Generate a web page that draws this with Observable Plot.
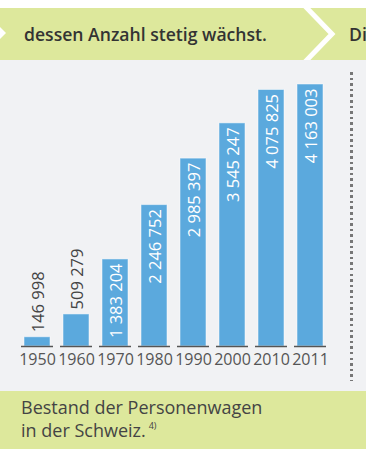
<!DOCTYPE html>
<html>
<head>
<meta charset="utf-8">
<script src="https://cdn.jsdelivr.net/npm/d3@7"></script>
<script src="https://cdn.jsdelivr.net/npm/@observablehq/plot@0.6"></script>
<style>
  html, body { margin: 0; padding: 0; background: #fff; }
  #page { position: relative; width: 366px; height: 449px; overflow: hidden; background: #fff; font-family: "Open Sans", Lato, sans-serif; }
  #banner { position: absolute; top: 8px; left: 0; width: 366px; height: 52px; background: #dde89c; }
  .bt { position: absolute; top: 0; line-height: 52px; font-size: 17.6px; font-weight: 600; color: #333; white-space: nowrap; }
  #chart { position: absolute; top: 60px; left: 0; width: 366px; height: 331px; background: #f1f2f4; }
  #caption { position: absolute; top: 391px; left: 0; width: 366px; height: 58px; background: #dde89c; box-sizing: border-box; padding: 5px 0 0 21px; font-size: 18px; line-height: 23px; color: #444; }
  #caption sup { font-size: 9px; vertical-align: 0; position: relative; top: -8px; margin-left: 3px; }
  #dots { position: absolute; left: 350px; top: 12px; width: 2.5px; height: 309px; background: repeating-linear-gradient(to bottom, #777 0 2.5px, transparent 2.5px 5.6px); }
  #deco { position: absolute; top: 0; left: 0; }
</style>
</head>
<body>
<div id="page">
  <div id="banner">
    <div class="bt" style="left:24px">dessen Anzahl stetig wächst.</div>
    <div class="bt" style="left:349px">Di</div>
    <svg id="deco" width="366" height="52">
      <polygon points="0,19 6,25 0,31" fill="#fff"/>
      <polyline points="303,-4 332,26 303,56" fill="none" stroke="#fff" stroke-width="5"/>
    </svg>
  </div>
  <div id="chart"><div id="dots"></div></div>
  <div id="caption">Bestand der Personenwagen<br>in der Schweiz.<sup>4)</sup></div>
</div>
<script>
const years = ["1950", "1960", "1970", "1980", "1990", "2000", "2010", "2011"];
const counts = [146998, 509279, 1383204, 2246752, 2985397, 3545247, 4075825, 4163003];
const data = years.map((year, i) => ({year, count: counts[i]}));
const fmt = v => d3.format(",")(v).replace(/,/g, " ");

const chart = Plot.plot({
  width: 366,
  height: 331,
  marginTop: 24,
  marginBottom: 45,
  marginLeft: 17,
  marginRight: 35.5,
  style: {background: "transparent", fontFamily: "'Open Sans', sans-serif", fontSize: "16.5px", color: "#555"},
  x: {domain: years, paddingInner: 0.34, paddingOuter: 0.17, label: null},
  y: {domain: [0, 4163003], axis: null},
  marks: [
    Plot.axisX({fontSize: 16, tickSize: 0, tickPadding: 7, label: null}),
    Plot.barY(data, {x: "year", y: "count", fill: "#5ba9dd", stroke: "#fff", strokeOpacity: 0.5, strokeWidth: 1}),
    Plot.tickY(data, {x: "year", y: 0, stroke: "#555", strokeWidth: 1.5, insetLeft: -3, insetRight: -3}),
    Plot.text(data.filter(d => d.count > 1e6), {x: "year", y: "count", text: d => fmt(d.count), rotate: -90, textAnchor: "end", lineAnchor: "middle", dy: 4, dx: 1, fill: "#fff", fontSize: 16.5}),
    Plot.text(data.filter(d => d.count <= 1e6), {x: "year", y: "count", text: d => fmt(d.count), rotate: -90, textAnchor: "start", lineAnchor: "middle", dy: -5, dx: 1, fill: "#444", fontSize: 16.5})
  ]
});
document.getElementById("chart").appendChild(chart);
chart.style.position = "absolute";
chart.style.top = "0";
chart.style.left = "0";
</script>
</body>
</html>
